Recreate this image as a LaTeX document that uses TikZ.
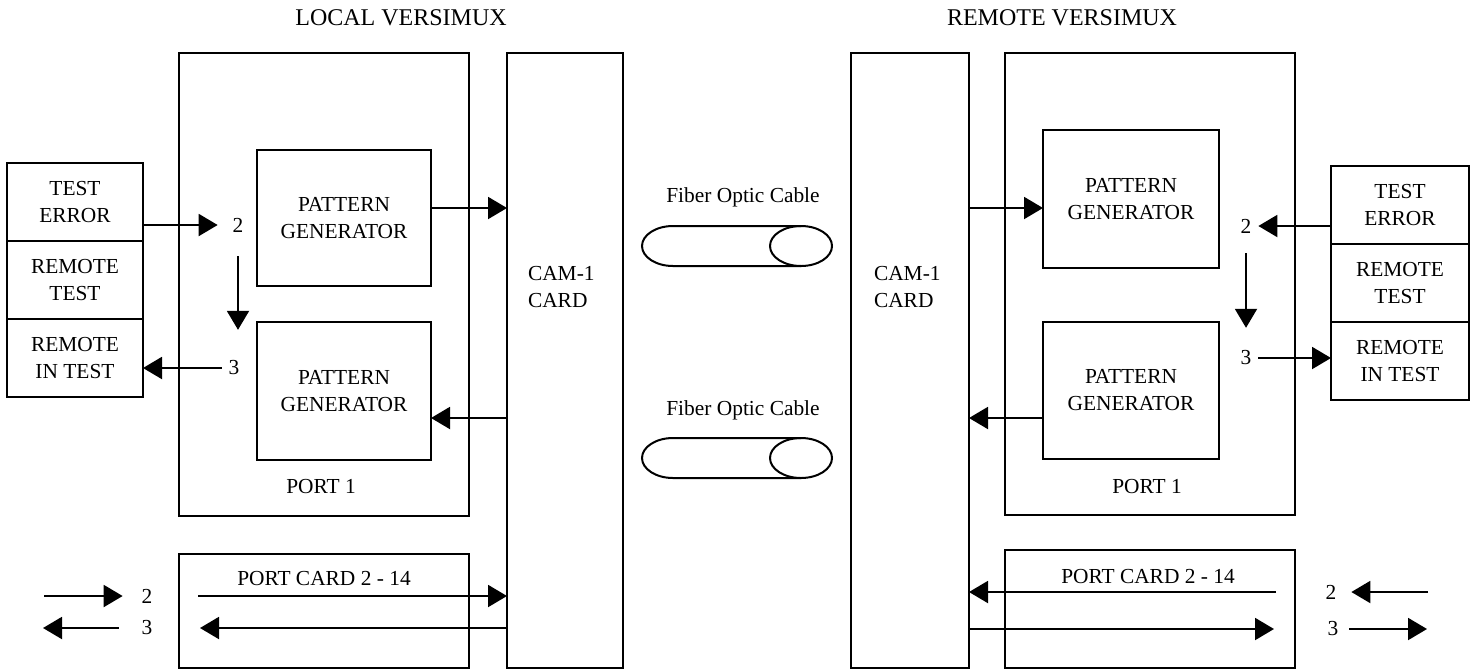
\documentclass[tikz,border=0pt]{standalone}
\usepackage{fontspec}
\setmainfont{Liberation Serif}
\usetikzlibrary{arrows.meta,positioning}

\begin{document}
\begin{tikzpicture}[x=0.5pt, y=-0.5pt, line width=1pt,
  every node/.style={font=\fontsize{10.7}{13.5}\selectfont},
  box/.style={draw, rectangle, inner sep=0pt, outer sep=0pt, align=center},
  lbl/.style={inner sep=3pt, align=center},
  title/.style={inner sep=3pt, font=\fontsize{12}{14}\selectfont},
  arr/.style={-{Triangle[length=9.5pt,width=11pt]}}]
\useasboundingbox (0,0) rectangle (1476,670);

\node[title] (titleL) at (401,18) {LOCAL VERSIMUX};
\node[box, minimum width=145pt, minimum height=231.5pt] (portL) at (324,284.5) {};
\node[box, minimum width=58pt, minimum height=307.5pt] (camL) at (565,360.5) {};
\node[lbl, anchor=west, align=left] (camLtxt) at (521,287) {CAM-1\\CARD};
\node[box, minimum width=87pt, minimum height=68pt] (pgLa) at (344,218) {PATTERN\\GENERATOR};
\node[box, minimum width=87pt, minimum height=69pt] (pgLb) at (344,391) {PATTERN\\GENERATOR};
\node[box, minimum width=68pt, minimum height=39pt] (teLa) at (75,202) {TEST\\ERROR};
\node[box, minimum width=68pt, minimum height=39pt, below=0pt of teLa] (teLb) {REMOTE\\TEST};
\node[box, minimum width=68pt, minimum height=39pt, below=0pt of teLb] (teLc) {REMOTE\\IN TEST};
\node[lbl] (numL2) at (238,225) {2};
\node[lbl] (numL3) at (234,368) {3};
\node[lbl] (portLtxt) at (321,487) {PORT 1};
\node[box, minimum width=145pt, minimum height=57pt] (pcL) at (324,611) {};
\node[lbl] (pcLtxt) at (324,579) {PORT CARD 2 - 14};
\node[lbl] (outL2) at (147,596) {2};
\node[lbl] (outL3) at (147,628) {3};
\coordinate (inL2) at (44,596);
\coordinate (inL3) at (43,628);
\coordinate (pcL2) at (198,596);
\coordinate (pcL3) at (200,628);
\coordinate (pgLaOut) at ([yshift=5pt]pgLa.east);
\coordinate (pgLbIn) at ([yshift=-13.5pt]pgLb.east);

\node[title] (titleR) at (1062,18) {REMOTE VERSIMUX};
\node[box, minimum width=59pt, minimum height=307.5pt] (camR) at (910,360.5) {};
\node[lbl, anchor=west, align=left] (camRtxt) at (867,287) {CAM-1\\CARD};
\node[box, minimum width=145pt, minimum height=231pt] (portR) at (1150,284) {};
\node[box, minimum width=88pt, minimum height=69pt] (pgRa) at (1131,199) {PATTERN\\GENERATOR};
\node[box, minimum width=88pt, minimum height=68.5pt] (pgRb) at (1131,390.5) {PATTERN\\GENERATOR};
\node[box, minimum width=69pt, minimum height=39pt] (teRa) at (1400,205) {TEST\\ERROR};
\node[box, minimum width=69pt, minimum height=39pt, below=0pt of teRa] (teRb) {REMOTE\\TEST};
\node[box, minimum width=69pt, minimum height=39pt, below=0pt of teRb] (teRc) {REMOTE\\IN TEST};
\node[lbl] (numR2) at (1246,226) {2};
\node[lbl] (numR3) at (1246,358) {3};
\node[lbl] (portRtxt) at (1147,487) {PORT 1};
\node[box, minimum width=145pt, minimum height=59pt] (pcR) at (1150,609) {};
\node[lbl] (pcRtxt) at (1148,577) {PORT CARD 2 - 14};
\node[lbl] (outR2) at (1331,592) {2};
\node[lbl] (outR3) at (1333,629) {3};
\coordinate (inR2) at (1428,592);
\coordinate (inR3) at (1427,629);
\coordinate (pcR2) at (1276,592);
\coordinate (pcR3) at (1274,629);
\coordinate (pgRaIn) at ([yshift=-4.5pt]pgRa.west);
\coordinate (pgRbOut) at ([yshift=-13.75pt]pgRb.west);

\node[lbl] (fibA) at (743,197) {Fiber Optic Cable};
\node[lbl] (fibB) at (743,410) {Fiber Optic Cable};
\draw (801,226) -- (673,226) arc[start angle=90, end angle=270, x radius=15.5pt, y radius=10pt] -- (801,266);
\draw (801,246) ellipse [x radius=15.5pt, y radius=10pt];
\draw (801,438) -- (673,438) arc[start angle=90, end angle=270, x radius=15.5pt, y radius=10pt] -- (801,478);
\draw (801,458) ellipse [x radius=15.5pt, y radius=10pt];

\draw[arr, shorten >=4pt] (numL2 -| teLa.east) -- (numL2.west);
\draw[arr, shorten <=8.5pt, shorten >=12pt] (numL2.south) -- (numL2.south |- numL3.north);
\draw[arr] (numL3.west) -- (numL3 -| teLc.east);
\draw[arr] (pgLaOut) -- (pgLaOut -| camL.west);
\draw[arr] (pgLbIn -| camL.west) -- (pgLbIn);
\draw[arr] (pcL2) -- (pcL2 -| camL.west);
\draw[arr] (pcL3 -| camL.west) -- (pcL3);
\draw[arr, shorten >=6pt] (inL2) -- (outL2.west);
\draw[arr, shorten <=8pt] (outL3.west) -- (inL3);

\draw[arr] (numR2 -| teRa.west) -- (numR2.east);
\draw[arr, shorten <=6.5pt, shorten >=8pt] (numR2.south) -- (numR3.north);
\draw[arr] (numR3.east) -- (numR3 -| teRc.west);
\draw[arr] (pgRaIn -| camR.east) -- (pgRaIn);
\draw[arr] (pgRbOut) -- (pgRbOut -| camR.east);
\draw[arr] (pcR2) -- (pcR2 -| camR.east);
\draw[arr] (pcR3 -| camR.east) -- (pcR3);
\draw[arr, shorten >=4pt] (inR2) -- (outR2.east);
\draw[arr, shorten <=2pt] (outR3.east) -- (inR3);
\end{tikzpicture}
\end{document}
